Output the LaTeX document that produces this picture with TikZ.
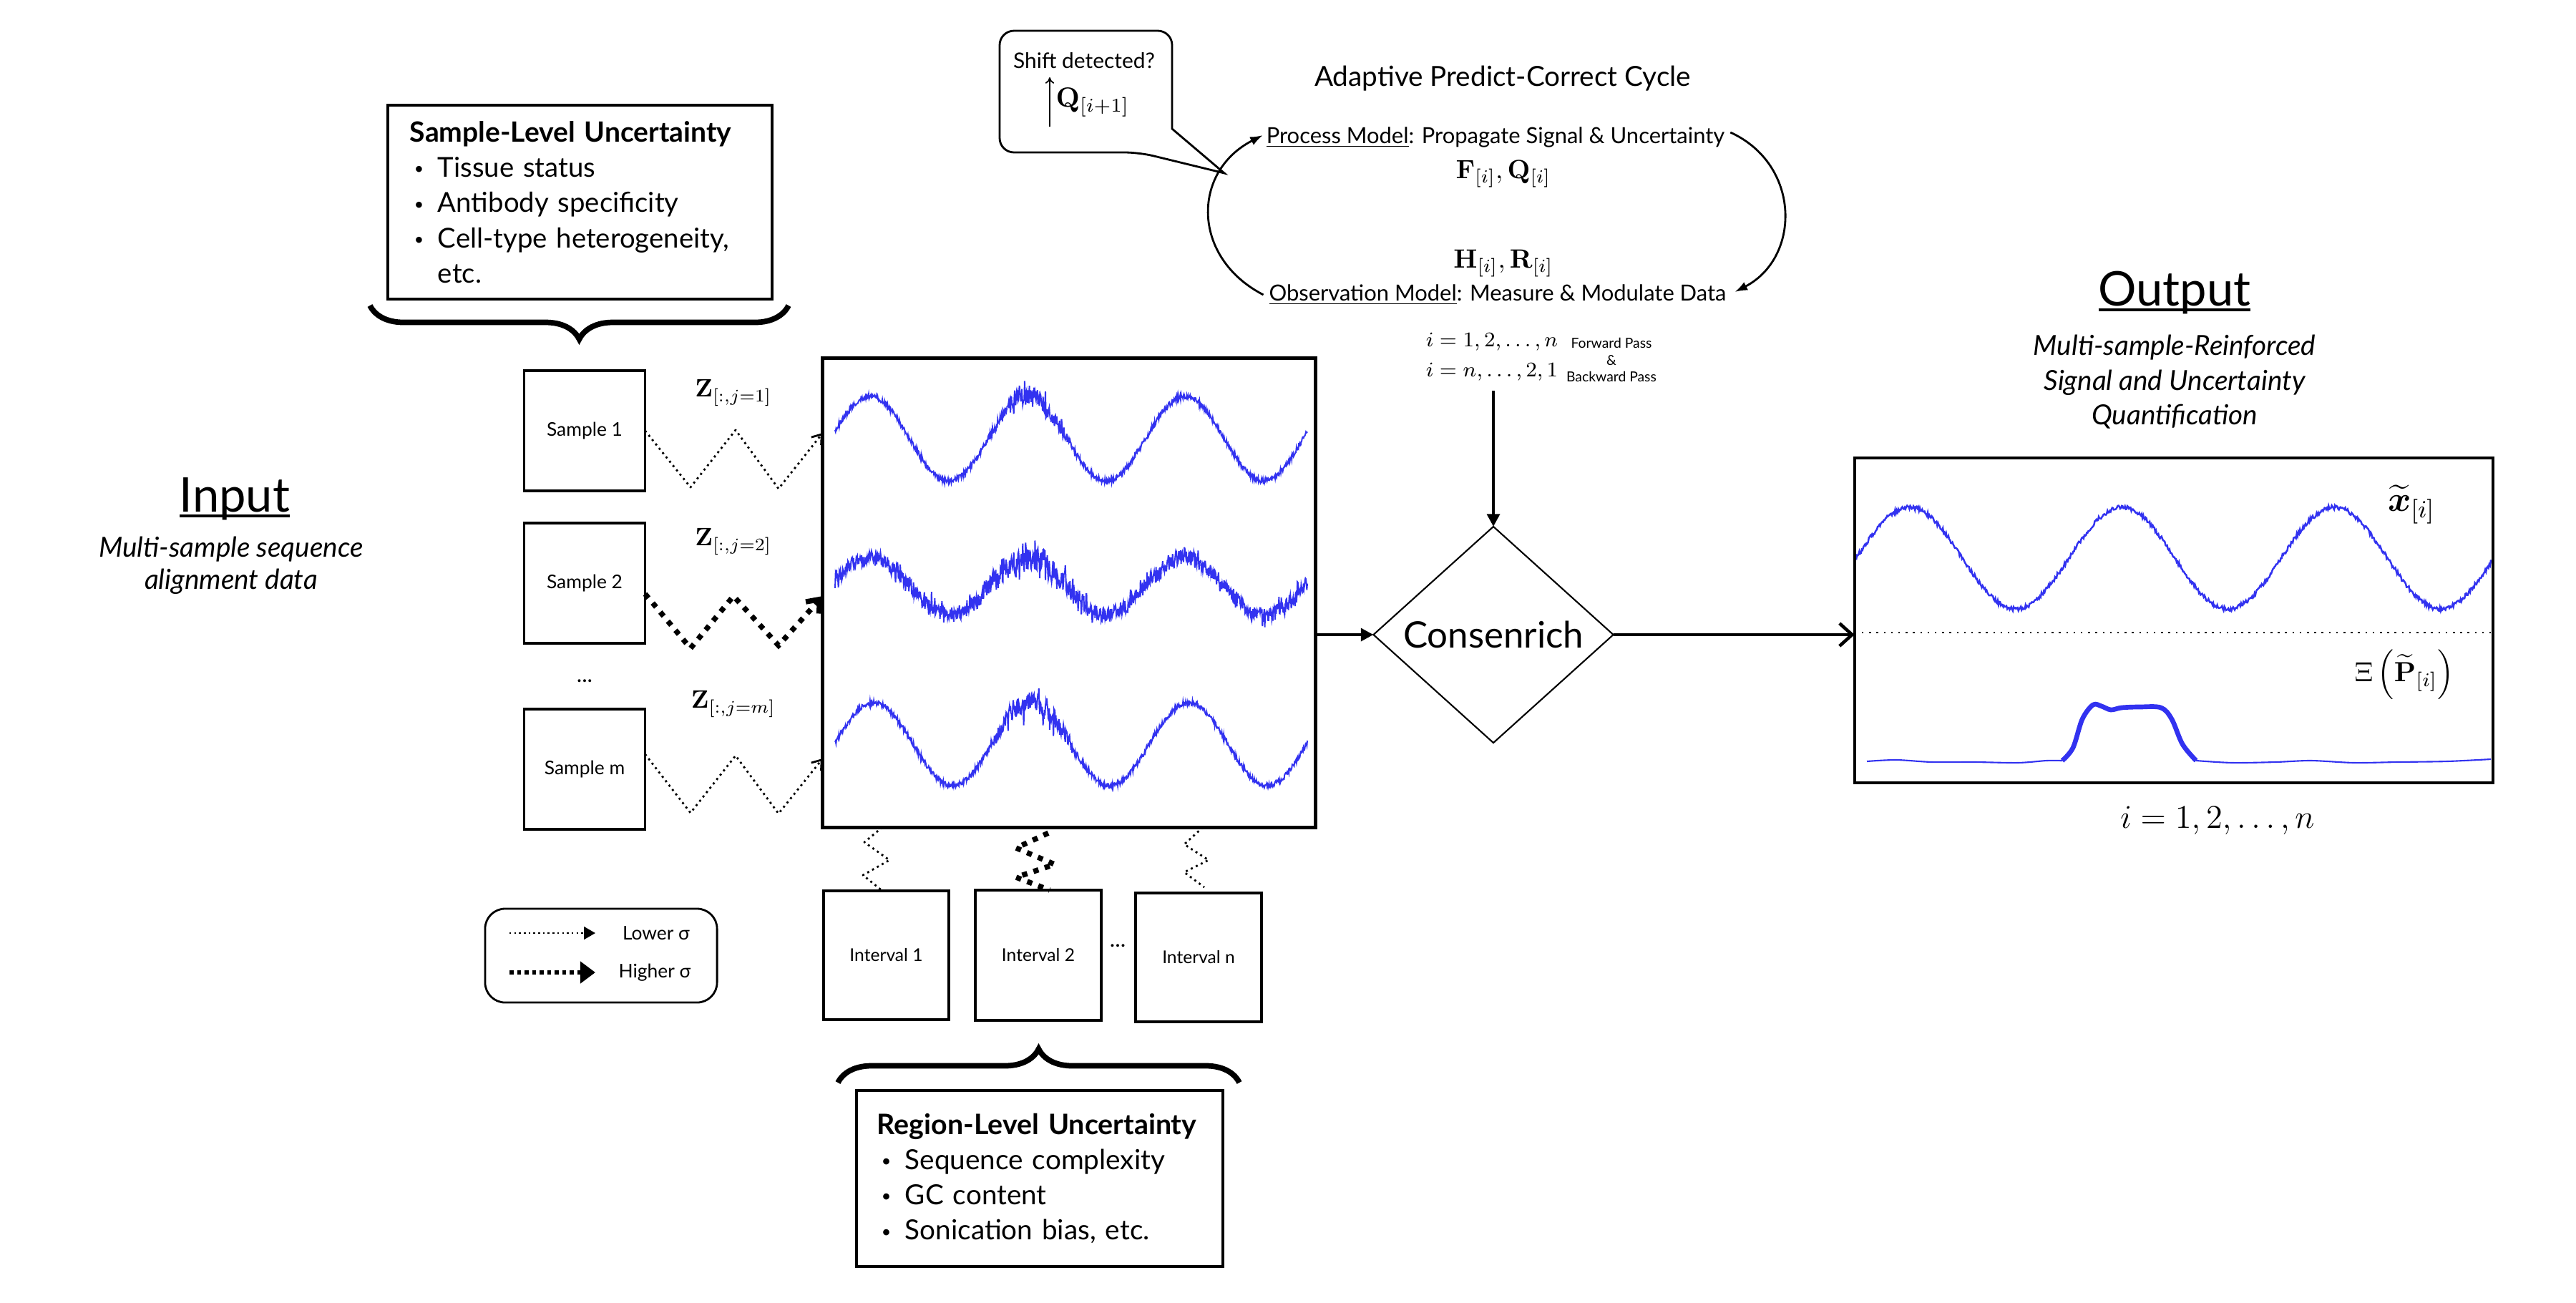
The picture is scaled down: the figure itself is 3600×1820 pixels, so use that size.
\RequirePackage{fix-cm}
\documentclass[tikz,border=0pt]{standalone}
\usepackage[no-math]{fontspec}
\setmainfont{Lato}
\usepackage{amsmath,amssymb}
\usepackage{graphicx}
\usetikzlibrary{arrows.meta,shapes.geometric,decorations.pathreplacing,calc}
\definecolor{sigblue}{RGB}{50,50,240}
\newcommand{\fsz}[2]{\fontsize{#1}{#2}\selectfont}
\newcommand{\bulitem}{\hspace*{0.06cm}\makebox[0.33cm][l]{\raisebox{0.1em}{\scalebox{0.6}{\textbullet}}}}
\newcommand{\bulpad}{\hspace*{0.39cm}}
\begin{document}
\begin{tikzpicture}[x=0.01cm,y=-0.01cm,
  every node/.style={inner sep=0pt,outer sep=0pt},
  frame/.style={draw,line width=0.9pt},
  sigline/.style={sigblue,line width=0.55pt},
  lowzz/.style={line width=0.8pt,dash pattern=on 0.8pt off 1.4pt,line join=round},
  highzz/.style={line width=2.1pt,dash pattern=on 2.1pt off 2.6pt},
  lowtip/.style={-{Straight Barb[length=3.5pt,width=5pt]}},
  hightip/.style={-{Straight Barb[length=4.5pt,width=7pt]}},
  bracestyle/.style={decorate,decoration={brace,amplitude=0.47cm},line width=2.2pt},
  solidarrow/.style={line width=1.3pt,-{Triangle[length=5pt,width=5pt]}},
  cyclearrow/.style={line width=0.8pt,-{Latex[length=5pt,width=3.6pt]}},
]
\useasboundingbox (0,0) rectangle (3600,1820);
\pgfmathsetseed{4242}

% ---------- Input ----------
\node[font=\fsz{19}{23},anchor=base] (intitle) at (328,715) {Input};
\draw[line width=1pt] ($(intitle.base west)+(0,6)$) -- ($(intitle.base east)+(0,6)$);
\node[font=\fsz{11}{12.8}\itshape,align=center] (insub) at (323,790) {Multi-sample sequence\\alignment data};

% ---------- Sample-level box ----------
\node[frame,line width=1pt,minimum width=5.37cm,minimum height=2.71cm,text width=4.75cm,inner xsep=0.31cm,align=left,font=\fsz{10.9}{14}] (slu) at (810.5,282.5)
 {{\fsz{11.1}{14}\textbf{Sample-Level Uncertainty}}\\\bulitem Tissue status\\\bulitem Antibody specificity\\\bulitem Cell-type heterogeneity,\\\bulpad etc.};
\draw[bracestyle] (1102,427) -- (517,427);

% ---------- Samples ----------
\node[frame,minimum width=1.69cm,minimum height=1.68cm,font=\fsz{7.5}{9}] (s1) at (817,602) {Sample 1};
\node[frame,minimum width=1.69cm,minimum height=1.68cm,font=\fsz{7.5}{9}] (s2) at (817,815) {Sample 2};
\node[font=\fsz{9}{10}] (sdots) at (817,952) {...};
\node[frame,minimum width=1.69cm,minimum height=1.68cm,font=\fsz{7.5}{9}] (sm) at (817,1075) {Sample m};

\node[font=\fsz{10}{12}] (z1) at (1025,549) {$\mathbf{Z}_{[:,j=1]}$};
\node[font=\fsz{10}{12}] (z2) at (1025,757) {$\mathbf{Z}_{[:,j=2]}$};
\node[font=\fsz{10}{12}] (zm) at (1025,984) {$\mathbf{Z}_{[:,j=m]}$};

% ---------- Signals ----------
\draw[sigline] plot[domain=1167:1827,samples=1000,variable=\x]
  (\x,{613-59*cos((\x-1216)/220*360)+(3.5+10*max(0,1-((\x-1443)/65)*((\x-1443)/65)))*rand+30*max(0,1-((\x-1443)/65)*((\x-1443)/65))*rand*rand*rand});
\draw[sigline] plot[domain=1167:1827,samples=1000,variable=\x]
  (\x,{819-40*cos((\x-1216)/220*360)+(10+9*max(0,1-((\x-1443)/80)*((\x-1443)/80)))*rand+(18+18*max(0,1-((\x-1443)/80)*((\x-1443)/80)))*rand*rand*rand});
\draw[sigline] plot[domain=1167:1827,samples=1000,variable=\x]
  (\x,{1040-58*cos((\x-1221)/220*360)+(3.5+10*max(0,1-((\x-1443)/65)*((\x-1443)/65)))*rand+30*max(0,1-((\x-1443)/65)*((\x-1443)/65))*rand*rand*rand});
\node[draw,line width=1.4pt,minimum width=6.88cm,minimum height=6.55cm] (sig) at (1494,828.5) {};

\draw[lowzz,lowtip] (s1.east) -- (965,681) -- (1028,601) -- (1088,683) -- (sig.west |- 0,605);
\draw[highzz,hightip] ($(s2.east)+(0,15)$) -- (965,906) -- (1025,833) -- (1088,902) -- (sig.west |- 0,833);
\draw[lowzz,lowtip] ($(sm.east)+(0,-21)$) -- (965,1136) -- (1028,1056) -- (1088,1137) -- (sig.west |- 0,1060);

% ---------- Intervals ----------
\node[frame,line width=1.2pt,minimum width=1.75cm,minimum height=1.80cm,font=\fsz{7}{9}] (i1) at (1238.5,1335) {Interval 1};
\node[frame,line width=1.2pt,minimum width=1.76cm,minimum height=1.82cm,font=\fsz{7}{9}] (i2) at (1451,1335) {Interval 2};
\node[font=\fsz{9}{10}] (idots) at (1562,1322) {...};
\node[frame,line width=1.2pt,minimum width=1.76cm,minimum height=1.80cm,font=\fsz{7}{9}] (in) at (1675,1338) {Interval n};

\draw[lowzz] (sig.south -| 1233,0) -- (1208,1177) -- (1243,1202) -- (1206,1223) -- (i1.north -| 1233,0);
\draw[highzz] ($(sig.south -| 1465,0)+(0,8)$) -- (1420,1185) -- (1474,1208) -- (1420,1226) -- (i2.north -| 1467,0);
\draw[lowzz] (sig.south -| 1681,0) -- (1655,1180) -- (1689,1202) -- (1655,1219) -- ($(in.north -| 1683,0)+(0,-8)$);

\draw[bracestyle] (1171,1513) -- (1732,1513);
\node[frame,line width=1pt,minimum width=5.12cm,minimum height=2.46cm,text width=4.54cm,inner xsep=0.29cm,align=left,font=\fsz{11}{14}] (rlu) at (1453,1647)
 {{\fsz{11.2}{14}\textbf{Region-Level Uncertainty}}\\\bulitem Sequence complexity\\\bulitem GC content\\\bulitem Sonication bias, etc.};

% ---------- Legend ----------
\node[draw,line width=0.8pt,rounded corners=0.28cm,minimum width=3.24cm,minimum height=1.31cm] (leg) at (840,1335.5) {};
\coordinate (lowa) at (712,1304); \coordinate (lowb) at (832,1304);
\draw[line width=0.7pt,dash pattern=on 0.7pt off 1.2pt,-{Triangle[length=4.5pt,width=5pt]}] (lowa) -- (lowb);
\coordinate (higha) at (712,1359); \coordinate (highb) at (832,1359);
\draw[line width=1.6pt,dash pattern=on 1.6pt off 1.4pt,-{Triangle[length=6pt,width=8.5pt]}] (higha) -- (highb);
\node[font=\fsz{7.5}{9}] (lowt) at (917,1304) {Lower σ};
\node[font=\fsz{7.5}{9}] (hight) at (915,1359) {Higher σ};

% ---------- Consenrich ----------
\node[draw,diamond,aspect=1.1,line width=0.6pt,minimum width=3.35cm,minimum height=3.02cm,font=\fsz{14.5}{17}] (cons) at (2087,887) {Consenrich};
\draw[solidarrow] (sig.east |- cons.west) -- (cons.west);
\coordinate (passtop) at (2087,546);
\draw[solidarrow] (passtop) -- (cons.north);
\node[font=\fsz{8.3}{12},align=left] (iters) at (2085,499) {$i=1,2,\ldots,n$\\$i=n,\ldots,2,1$};
\node[font=\fsz{5.5}{6.7},align=center] (passes) at (2252,503) {Forward Pass\\\&\\Backward Pass};

% ---------- Cycle ----------
\node[font=\fsz{11}{12}] (cyctitle) at (2100,110) {Adaptive Predict-Correct Cycle};
\node[font=\fsz{8.8}{10}] (proc) at (2090,192) {\underline{\smash{Process Model}}: Propagate Signal \& Uncertainty};
\node[font=\fsz{10.5}{12}] (fq) at (2101,243) {$\mathbf{F}_{[i]},\mathbf{Q}_{[i]}$};
\node[font=\fsz{10.5}{12}] (hr) at (2101,368) {$\mathbf{H}_{[i]},\mathbf{R}_{[i]}$};
\node[font=\fsz{8.8}{10}] (obs) at (2093,412) {\underline{\smash{Observation Model}}: Measure \& Modulate Data};
\draw[cyclearrow] ($(obs.west)+(-8,0)$) .. controls (1665,360) and (1665,240) .. ($(proc.west)+(-5,-3)$);
\draw[cyclearrow] ($(proc.east)+(8,-7)$) .. controls (2517,230) and (2517,360) .. ($(obs.east)+(12,-4)$);

% callout
\coordinate (calltip) at (1711,242);
\draw[line width=0.8pt] (calltip) -- (1638,180) [rounded corners=0.2cm] -- (1638,43) -- (1397,43) -- (1397,213) -- (1592,213) [sharp corners] -- cycle;
\node[font=\fsz{8.5}{10}] (shift) at (1515,85) {Shift detected?};
\coordinate (qa) at (1467,177); \coordinate (qb) at (1467,108);
\draw[line width=0.5pt,-{To[length=2.5pt,width=3.5pt]}] (qa) -- (qb);
\node[font=\fsz{11}{12}] (qnode) at (1527,143) {$\mathbf{Q}_{[i+1]}$};

% ---------- Output ----------
\node[font=\fsz{19}{23},anchor=base] (outtitle) at (3039,427) {Output};
\draw[line width=1pt] ($(outtitle.base west)+(0,6)$) -- ($(outtitle.base east)+(0,6)$);
\node[font=\fsz{11}{13.8}\itshape,align=center] (outsub) at (3039,534) {Multi-sample-Reinforced\\Signal and Uncertainty\\Quantification};

\draw[sigblue,line width=0.7pt] plot[domain=2594:3482,samples=800,variable=\x] (\x,{780-71*sin((\x-2594)/297*360)+3*rand});
\draw[sigblue,line width=0.6pt] plot[smooth] coordinates {(2609,1064) (2650,1062) (2700,1065) (2760,1065) (2820,1066) (2860,1063) (2882,1063)};
\draw[sigblue,line width=1.9pt,line join=round] plot[smooth,tension=0.55] coordinates {(2882,1063) (2897,1045) (2910,1005) (2925,985) (2937,987) (2950,992) (2965,989) (2990,988) (3020,989) (3035,1005) (3050,1040) (3069,1063)};
\draw[sigblue,line width=0.6pt] plot[smooth] coordinates {(3069,1063) (3120,1066) (3180,1065) (3230,1063) (3290,1066) (3350,1065) (3420,1064) (3481,1061)};
\node[draw,line width=1.1pt,minimum width=8.92cm,minimum height=4.54cm] (outbox) at (3038,867) {};
\draw[line width=0.7pt,dash pattern=on 0.7pt off 2.2pt] (outbox.west |- 0,884) -- (outbox.east |- 0,884);
\draw[line width=1.3pt,-{Straight Barb[length=5pt,width=9pt]}] (cons.east) -- (outbox.west |- cons.east);

\node[font=\fsz{14}{16}] (xlab) at (3370,705) {$\widetilde{\boldsymbol{x}}_{[i]}$};
\node[font=\fsz{11}{13}] (plab) at (3360,943) {$\Xi\left(\widetilde{\mathbf{P}}_{[i]}\right)$};
\node[font=\fsz{13.2}{15}] (ilab) at (3099,1147) {$i=1,2,\ldots,n$};
\end{tikzpicture}
\end{document}
